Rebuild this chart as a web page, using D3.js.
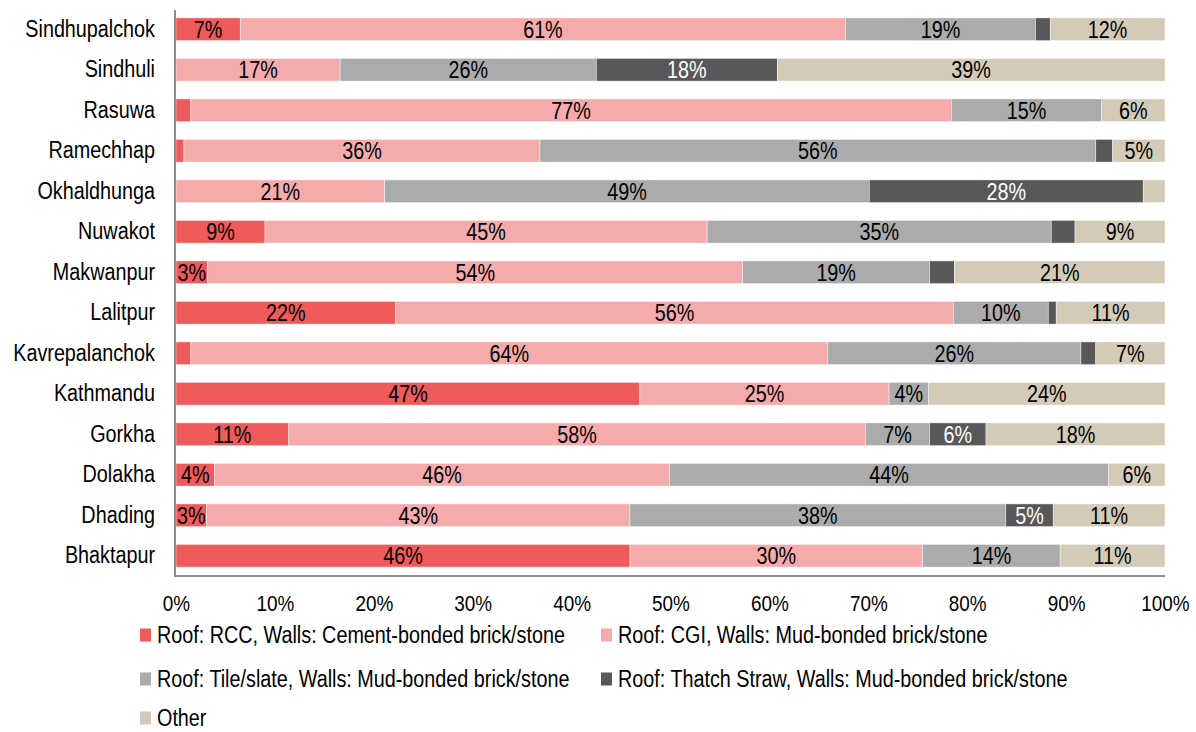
<!DOCTYPE html>
<html>
<head>
<meta charset="utf-8">
<script src="https://cdn.jsdelivr.net/npm/d3@7.9.0/dist/d3.min.js"></script>
<style>
  body { margin: 0; background: #fff; }
  svg text { font-family: "Liberation Sans Narrow", "Arial Narrow", "Liberation Sans", Arial, sans-serif; }
</style>
</head>
<body>
<svg id="chart" width="1196" height="732"></svg>
<script>
const districts = ["Sindhupalchok", "Sindhuli", "Rasuwa", "Ramechhap", "Okhaldhunga", "Nuwakot",
  "Makwanpur", "Lalitpur", "Kavrepalanchok", "Kathmandu", "Gorkha", "Dolakha", "Dhading", "Bhaktapur"];

const seriesNames = [
  "Roof: RCC, Walls: Cement-bonded brick/stone",
  "Roof: CGI, Walls: Mud-bonded brick/stone",
  "Roof: Tile/slate, Walls: Mud-bonded brick/stone",
  "Roof: Thatch Straw, Walls: Mud-bonded brick/stone",
  "Other"
];

// percentages per district, same order as districts
const rcc    = [6.5, 0,    1.5,  0.8,  0,    9.0,  3.2,  22.2, 1.5,  46.9, 11.4, 3.9,  3.1,  45.9];
const cgi    = [61.2, 16.6, 76.9, 36.0, 21.1, 44.7, 54.1, 56.4, 64.4, 25.2, 58.3, 46.0, 42.8, 29.6];
const tile   = [19.2, 25.9, 15.2, 56.2, 49.0, 34.8, 18.9, 9.6,  25.6, 4.0,  6.5,  44.4, 38.0, 13.9];
const thatch = [1.5, 18.3, 0,    1.7,  27.7, 2.4,  2.5,  0.8,  1.5,  0,    5.7,  0,    4.8,  0];
const other  = [11.6, 39.2, 6.4,  5.3,  2.2,  9.1,  21.3, 11.0, 7.0,  23.9, 18.1, 5.7,  11.3, 10.6];

const xTicks = [0, 10, 20, 30, 40, 50, 60, 70, 80, 90, 100];

const colors = ["#ef5a5b", "#f5abab", "#ababab", "#58585a", "#d3cbb8"];
const labelColors = ["#000", "#000", "#000", "#fff", "#000"];

const keys = ["rcc", "cgi", "tile", "thatch", "other"];
const rows = districts.map((d, i) => ({
  district: d, rcc: rcc[i], cgi: cgi[i], tile: tile[i], thatch: thatch[i], other: other[i]
}));

// no narrow font installed, so squeeze the regular one
const sx = 0.86;
const fs = 23;

const svg = d3.select("#chart");
const x = d3.scaleLinear().domain([0, 100]).range([176, 1165]);
const y = d3.scaleBand().domain(districts).range([9, 576]).paddingInner(0.44).paddingOuter(0.22);

const stacked = d3.stack().keys(keys)(rows);
const color = d3.scaleOrdinal().domain(keys).range(colors);
const labelColor = d3.scaleOrdinal().domain(keys).range(labelColors);

const layers = svg.append("g").selectAll("g")
  .data(stacked)
  .join("g")
  .attr("fill", d => color(d.key));

layers.selectAll("rect")
  .data(d => d.map(s => ({ key: d.key, s })))
  .join("rect")
  .attr("x", d => x(d.s[0]))
  .attr("y", d => y(d.s.data.district))
  .attr("width", d => x(d.s[1]) - x(d.s[0]))
  .attr("height", y.bandwidth())
  .attr("stroke", "#fff")
  .attr("stroke-opacity", 0.6)
  .attr("stroke-width", 0.7);

layers.selectAll("text")
  .data(d => d.map(s => ({ key: d.key, s })).filter(d => d.s[1] - d.s[0] >= 3))
  .join("text")
  .attr("transform", d => `translate(${(x(d.s[0]) + x(d.s[1])) / 2},${y(d.s.data.district) + y.bandwidth() / 2}) scale(${sx},1)`)
  .attr("dy", "0.36em")
  .attr("text-anchor", "middle")
  .attr("font-size", fs)
  .attr("fill", d => labelColor(d.key))
  .text(d => Math.round(d.s[1] - d.s[0]) + "%");

// axes
const yAxis = svg.append("g")
  .attr("transform", "translate(176,0)")
  .call(d3.axisLeft(y).tickSize(0).tickPadding(21 / sx));
yAxis.select(".domain").remove();
yAxis.selectAll("text").attr("font-size", fs).attr("fill", "#000")
  .attr("transform", `scale(${sx},1)`);

const xAxis = svg.append("g")
  .attr("transform", "translate(0,576)")
  .call(d3.axisBottom(x).tickValues(xTicks).tickSize(0).tickPadding(19).tickFormat(d => d + "%"));
xAxis.select(".domain").remove();
xAxis.selectAll("text").attr("font-size", 22).attr("fill", "#000")
  .attr("transform", `scale(${sx},1)`);

svg.append("line")
  .attr("x1", x(0) - 1).attr("x2", x(0) - 1)
  .attr("y1", 10).attr("y2", 577)
  .attr("stroke", "#8c8c8c").attr("stroke-width", 2);
svg.append("line")
  .attr("x1", x(0) - 2).attr("x2", x(100))
  .attr("y1", 576).attr("y2", 576)
  .attr("stroke", "#8c8c8c").attr("stroke-width", 2);

// legend
const legendPos = [[140, 635], [601, 635], [140, 679], [601, 679], [140, 718]];
const legend = svg.append("g").selectAll("g")
  .data(seriesNames)
  .join("g")
  .attr("transform", (d, i) => `translate(${legendPos[i][0]},${legendPos[i][1]})`);
legend.append("rect")
  .attr("x", 0).attr("y", -6.5).attr("width", 11).attr("height", 13)
  .attr("fill", (d, i) => colors[i]);
legend.append("text")
  .attr("transform", `translate(17,0) scale(${sx},1)`)
  .attr("dy", "0.36em")
  .attr("font-size", fs)
  .attr("fill", "#000")
  .text(d => d);
</script>
</body>
</html>
